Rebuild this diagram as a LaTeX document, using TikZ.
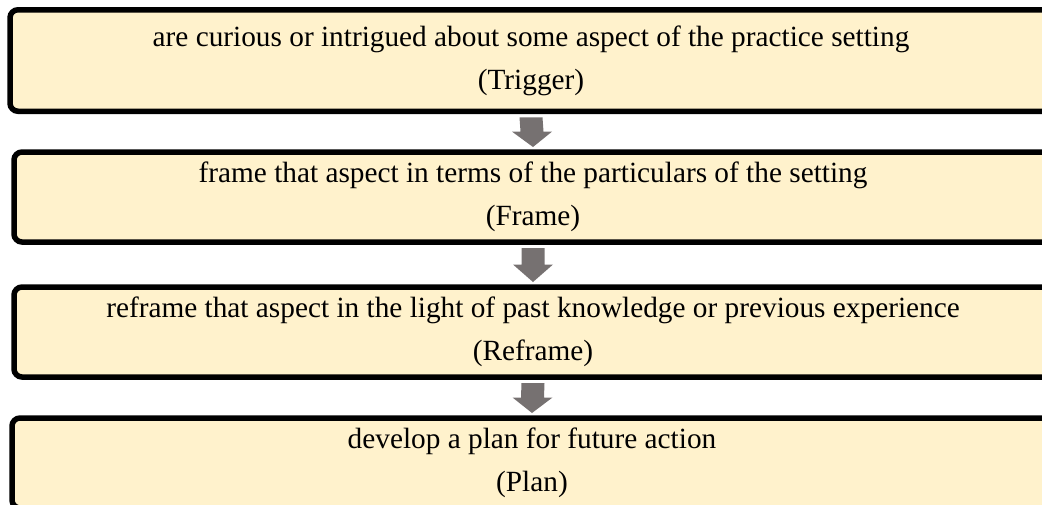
\documentclass[tikz,border=0pt]{standalone}
\usepackage{fontspec}
\setmainfont{Liberation Serif}
\usetikzlibrary{calc}
\definecolor{boxfill}{HTML}{FFF2CC}
\definecolor{arrowfill}{HTML}{767171}
\tikzset{
  stepbox/.style={draw=black, line width=5.5pt, rounded corners=8pt, fill=boxfill,
    align=center, inner sep=0pt, outer sep=0pt,
    font=\fontsize{29.3}{43}\selectfont},
}
% gray block arrow from the bottom of one box to the top of the next
\newcommand\blockarrow[2]{%
  \fill[arrowfill]
    ($(#1.south)+(-11.5,6)$) -- ($(#1.south)+(11.5,6)$)
    -- ($(#1.south)!.5!(#2.north)+(11.5,0)$) -- ($(#1.south)!.5!(#2.north)+(20,0)$)
    -- ($(#2.north)+(0,-5)$)
    -- ($(#1.south)!.5!(#2.north)+(-20,0)$) -- ($(#1.south)!.5!(#2.north)+(-11.5,0)$)
    -- cycle;}
\begin{document}
\begin{tikzpicture}[x=1pt,y=-1pt]
  \useasboundingbox (0,0) rectangle (1042,504);
  \clip (0,0) rectangle (1042,504);
  \node[stepbox, minimum width=1042pt, minimum height=101.5pt] (b1) at (531,60.5)
    {are curious or intrigued about some aspect of the practice setting\\(Trigger)};
  \node[stepbox, minimum width=1038pt, minimum height=90pt] (b2) at (533,197)
    {frame that aspect in terms of the particulars of the setting\\(Frame)};
  \node[stepbox, minimum width=1038pt, minimum height=90pt] (b3) at (533,332)
    {reframe that aspect in the light of past knowledge or previous experience\\(Reframe)};
  \node[stepbox, minimum width=1040pt, minimum height=90pt] (b4) at (532,463)
    {develop a plan for future action\\(Plan)};
  \blockarrow{b1}{b2}
  \blockarrow{b2}{b3}
  \blockarrow{b3}{b4}
\end{tikzpicture}
\end{document}
